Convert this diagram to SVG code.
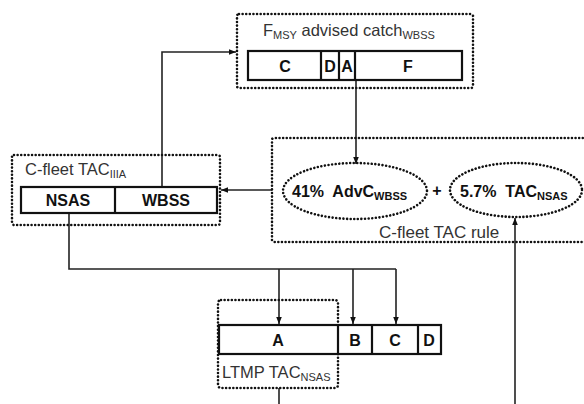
<svg xmlns="http://www.w3.org/2000/svg" width="584" height="404" viewBox="0 0 584 404">
<defs>
<marker id="ah" viewBox="0 0 10 10" refX="10" refY="5" markerWidth="7" markerHeight="7" orient="auto" markerUnits="userSpaceOnUse">
<path d="M0,1 L10,5 L0,9 z" fill="#111"/>
</marker>
<style>
.dot{fill:none;stroke:#111;stroke-width:2.6;stroke-linecap:round;stroke-dasharray:0.01 3.6}
.bar{fill:#fff;stroke:#111;stroke-width:2.2}
.ln{fill:none;stroke:#222;stroke-width:1.6}
.t{font-family:"Liberation Sans",Arial,sans-serif;font-size:16.5px;fill:#333}
.b{font-family:"Liberation Sans",Arial,sans-serif;font-size:16px;font-weight:bold;fill:#111}
.s{font-size:11px}
</style>
</defs>
<rect width="584" height="404" fill="#fff"/>
<g id="connectors">
<path class="ln" d="M162,187 V52 H236" marker-end="url(#ah)"/>
<path class="ln" d="M356,80 V164" marker-end="url(#ah)"/>
<path class="ln" d="M272,190 H221" marker-end="url(#ah)"/>
<path class="ln" d="M515,404 V218" marker-end="url(#ah)"/>
<path class="ln" d="M69,213 V269 H396"/>
<path class="ln" d="M279,269 V324" marker-end="url(#ah)"/>
<path class="ln" d="M353,269 V324" marker-end="url(#ah)"/>
<path class="ln" d="M396,269 V324" marker-end="url(#ah)"/>
<path class="ln" d="M279,388 V404"/>
</g>
<g id="fmsy">
<rect class="dot" x="237" y="14" width="236" height="74" rx="2"/>
<text class="t" x="263" y="36">F<tspan class="s" dy="3">MSY</tspan><tspan dy="-3"> advised catch</tspan><tspan class="s" dy="3">WBSS</tspan></text>
<rect class="bar" x="248" y="51" width="214" height="29"/>
<path class="bar" d="M321,51 V80 M339,51 V80 M355,51 V80"/>
<text class="b" x="285" y="72" text-anchor="middle">C</text>
<text class="b" x="330" y="72" text-anchor="middle">D</text>
<text class="b" x="347" y="72" text-anchor="middle">A</text>
<text class="b" x="408" y="72" text-anchor="middle">F</text>
</g>
<g id="cfleet">
<rect class="dot" x="12" y="155" width="208" height="70" rx="2"/>
<text class="t" x="25" y="175">C-fleet TAC<tspan class="s" dy="3">IIIA</tspan></text>
<rect class="bar" x="21" y="187" width="196" height="26"/>
<path class="bar" d="M115,187 V213"/>
<text class="b" x="68" y="206" text-anchor="middle">NSAS</text>
<text class="b" x="166" y="206" text-anchor="middle">WBSS</text>
</g>
<g id="rule">
<path class="dot" d="M590,138 H274 Q272,138 272,140 V240 Q272,242 274,242 H590"/>
<ellipse class="dot" cx="355" cy="191" rx="72" ry="28"/>
<ellipse class="dot" cx="516" cy="190" rx="66" ry="27"/>
<text class="b" x="292" y="197" xml:space="preserve">41%  AdvC<tspan class="s" dy="3">WBSS</tspan></text>
<text class="b" x="437" y="196" text-anchor="middle">+</text>
<text class="b" x="460" y="197" xml:space="preserve">5.7%  TAC<tspan class="s" dy="3">NSAS</tspan></text>
<text class="t" x="379" y="238" style="font-size:17px">C-fleet TAC rule</text>
</g>
<g id="ltmp">
<rect class="dot" x="218" y="300" width="120" height="88" rx="3"/>
<rect class="bar" x="219" y="325" width="222" height="29"/>
<path class="bar" d="M338,325 V354 M372,325 V354 M418,325 V354"/>
<text class="b" x="278" y="346" text-anchor="middle">A</text>
<text class="b" x="355" y="346" text-anchor="middle">B</text>
<text class="b" x="395" y="346" text-anchor="middle">C</text>
<text class="b" x="429" y="346" text-anchor="middle">D</text>
<text class="t" x="222" y="378">LTMP TAC<tspan class="s" dy="3">NSAS</tspan></text>
</g>
</svg>
